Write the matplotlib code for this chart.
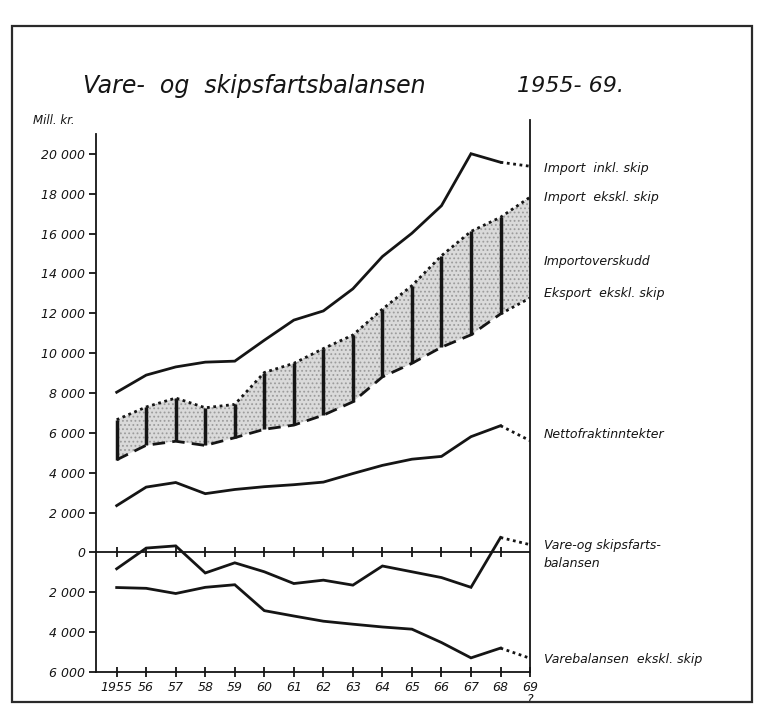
import matplotlib
matplotlib.use("Agg")
import matplotlib.pyplot as plt
from matplotlib.patches import Rectangle

# values in mill. kr. (1969 = estimate)
years = [1955, 1956, 1957, 1958, 1959, 1960, 1961, 1962, 1963, 1964, 1965, 1966, 1967, 1968, 1969]
year_labels = ["1955", "56", "57", "58", "59", "60", "61", "62", "63", "64", "65", "66", "67", "68", "69\n?"]

import_inkl = [8040, 8900, 9310, 9550, 9600, 10650, 11660, 12120, 13230, 14850, 16020, 17400, 20010, 19580, 19380]
import_ekskl = [6660, 7300, 7750, 7260, 7430, 9030, 9490, 10230, 10910, 12210, 13390, 14890, 16110, 16820, 17830]
eksport_ekskl = [4650, 5380, 5580, 5370, 5760, 6180, 6390, 6890, 7560, 8810, 9490, 10300, 10920, 11970, 12770]
nettofrakt = [2350, 3280, 3510, 2950, 3160, 3300, 3400, 3530, 3960, 4370, 4680, 4820, 5810, 6360, 5610]
vare_skip_bal = [-820, 220, 330, -1030, -520, -970, -1560, -1390, -1640, -680, -970, -1260, -1750, 750, 390]
varebal = [-1760, -1800, -2060, -1750, -1620, -2920, -3190, -3450, -3600, -3740, -3850, -4520, -5290, -4800, -5310]

y_ticks = [-6000, -4000, -2000, 0, 2000, 4000, 6000, 8000, 10000, 12000, 14000, 16000, 18000, 20000]
y_labels = ["6 000", "4 000", "2 000", "0", "2 000", "4 000", "6 000", "8 000",
            "10 000", "12 000", "14 000", "16 000", "18 000", "20 000"]

series_names = ["Import  inkl. skip", "Import  ekskl. skip", "Importoverskudd", "Eksport  ekskl. skip",
                "Nettofraktinntekter", "Vare-og skipsfarts-\nbalansen", "Varebalansen  ekskl. skip"]
name_y = [19250, 17800, 14580, 12980, 5900, -80, -5350]

INK = "#151515"
LW = 2.0
DOT = (0, (1, 1.3))
DASH = (0, (4.5, 2.6))

plt.rcParams["font.family"] = "DejaVu Sans"
plt.rcParams["font.style"] = "italic"
plt.rcParams["hatch.linewidth"] = 0.8

fig = plt.figure(figsize=(7.62, 7.14), dpi=100)
ax = fig.add_axes([0.126, 0.0588, 0.5696, 0.7731])
ax.set_xlim(1954.3, 1969)
ax.set_ylim(-6000, 21700)

# import surplus band (stippled)
ax.fill_between(years, eksport_ekskl, import_ekskl, facecolor="#dadada",
                hatch="....", edgecolor="#9c9c9c", linewidth=0)
ax.vlines(years[:-1], eksport_ekskl[:-1], import_ekskl[:-1], color=INK, lw=2.5)

ax.plot(years, import_ekskl, color=INK, lw=LW, ls=DOT)
ax.plot(years[:-1], eksport_ekskl[:-1], color=INK, lw=LW, ls=DASH)
ax.plot(years[-2:], eksport_ekskl[-2:], color=INK, lw=LW, ls=DOT)

for series in [import_inkl, nettofrakt, vare_skip_bal, varebal]:
    ax.plot(years[:-1], series[:-1], color=INK, lw=LW, solid_joinstyle="miter")
    ax.plot(years[-2:], series[-2:], color=INK, lw=LW, ls=DOT)

# zero line with year ticks
ax.axhline(0, color=INK, lw=1.3)
ax.plot(years[:-1], [0] * (len(years) - 1), ls="none", marker="|", ms=7, mew=1.3, color=INK)

ax.spines["top"].set_visible(False)
ax.spines["left"].set_bounds(-6000, 21000)
for side in ["left", "right", "bottom"]:
    ax.spines[side].set_linewidth(1.3)
    ax.spines[side].set_color(INK)

ax.set_yticks(y_ticks)
ax.set_yticklabels(y_labels)
ax.set_xticks(years)
ax.set_xticklabels(year_labels, linespacing=0.85)
ax.tick_params(axis="y", direction="out", length=5, width=1.3, pad=3, labelsize=9, colors=INK)
ax.tick_params(axis="x", direction="inout", length=7, width=1.3, pad=3, labelsize=9, colors=INK)

for name, y in zip(series_names, name_y):
    ax.text(1969.47, y, name, fontsize=9, va="center", ha="left", color=INK,
            linespacing=1.5, clip_on=False)

fig.text(83 / 762, 1 - 86 / 714, "Vare-  og  skipsfartsbalansen", fontsize=17, va="center", color=INK)
fig.text(517 / 762, 1 - 86 / 714, "1955- 69.", fontsize=16, va="center", color=INK)
fig.text(33 / 762, 1 - 121 / 714, "Mill. kr.", fontsize=8.5, va="center", color=INK)

fig.patches.append(Rectangle((0.0157, 0.0168), 0.9712, 0.9468, transform=fig.transFigure,
                             fill=False, lw=1.6, ec="#2a2a2a"))

fig.savefig("out.png", dpi=100)
